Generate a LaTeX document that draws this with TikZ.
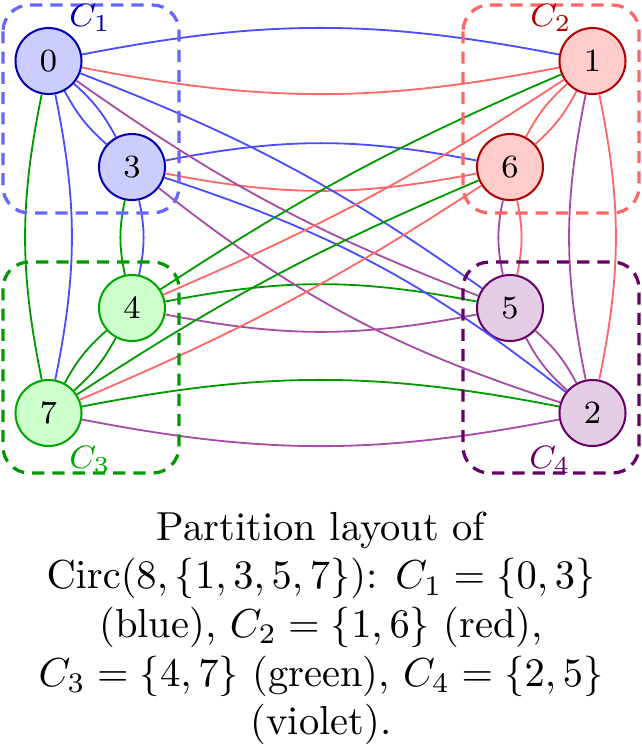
\documentclass[tikz,border=0pt]{standalone}
\begin{document}
\begin{tikzpicture}[x=0.24691pt, y=-0.24691pt,
  vtx/.style={circle, line width=0.5pt, minimum size=16.3pt, inner sep=0pt, font=\footnotesize},
  vB/.style={vtx, draw=blue!70!black, fill=blue!20},
  vR/.style={vtx, draw=red!70!black, fill=red!20},
  vG/.style={vtx, draw=green!65!black, fill=green!20},
  vV/.style={vtx, draw=violet!80!black, fill=violet!20},
  edge/.style={line width=0.45pt},
  clbox/.style={line width=0.8pt, dash pattern=on 3pt off 2pt, rounded corners=6.5pt},
  cllab/.style={font=\footnotesize, inner sep=0pt}]
\useasboundingbox (0,0) rectangle (642,750);
% vertices
\node[vB] (n0) at (48.5,61) {0};
\node[vB] (n3) at (132,167) {3};
\node[vR] (n1) at (592.5,61) {1};
\node[vR] (n6) at (510,167) {6};
\node[vG] (n4) at (132,308) {4};
\node[vG] (n7) at (48.5,413) {7};
\node[vV] (n5) at (510,308) {5};
\node[vV] (n2) at (592.5,413) {2};
% each pair {a,b} of Circ(8,{1,3,5,7}) drawn twice: a->b in a's colour, b->a in b's colour
\foreach \a/\ca/\b/\cb/\t in {
  0/blue!70/1/red!60/11, 3/blue!70/6/red!60/11, 4/green!60!black/5/violet!70/11, 7/green!60!black/2/violet!70/11,
  0/blue!70/7/green!60!black/11.5, 3/blue!70/4/green!60!black/12, 1/red!60/2/violet!70/11.5, 6/red!60/5/violet!70/12,
  0/blue!70/3/blue!70/10, 1/red!60/6/red!60/10, 4/green!60!black/7/green!60!black/10, 2/violet!70/5/violet!70/10,
  0/blue!70/5/violet!70/7, 3/blue!70/2/violet!70/10, 4/green!60!black/1/red!60/5, 6/red!60/7/green!60!black/5}{
  \draw[edge, draw=\ca] (n\a) to[bend left=\t] (n\b);
  \draw[edge, draw=\cb] (n\b) to[bend left=\t] (n\a);
}
% cluster boxes
\draw[clbox, draw=blue!60] (3,5) rectangle (179,213);
\draw[clbox, draw=red!60] (463,5) rectangle (639,213);
\draw[clbox, draw=green!60!black] (3,262) rectangle (179,473);
\draw[clbox, draw=violet!80!black] (463,262) rectangle (639,473);
\node[cllab, text=blue!70!black] (l1) at (90,18) {$C_1$};
\node[cllab, text=red!70!black] (l2) at (551,18) {$C_2$};
\node[cllab, text=green!65!black] (l3) at (90,460) {$C_3$};
\node[cllab, text=violet!80!black] (l4) at (550,460) {$C_4$};
% caption
\node[anchor=north, align=center, inner sep=0pt, font=\normalsize] (cap) at (321,511)
  {Partition layout of\\ $\mathrm{Circ}(8,\{1,3,5,7\})$: $C_1=\{0,3\}$\\ (blue), $C_2=\{1,6\}$ (red),\\ $C_3=\{4,7\}$ (green), $C_4=\{2,5\}$\\ (violet).};
\end{tikzpicture}
\end{document}
